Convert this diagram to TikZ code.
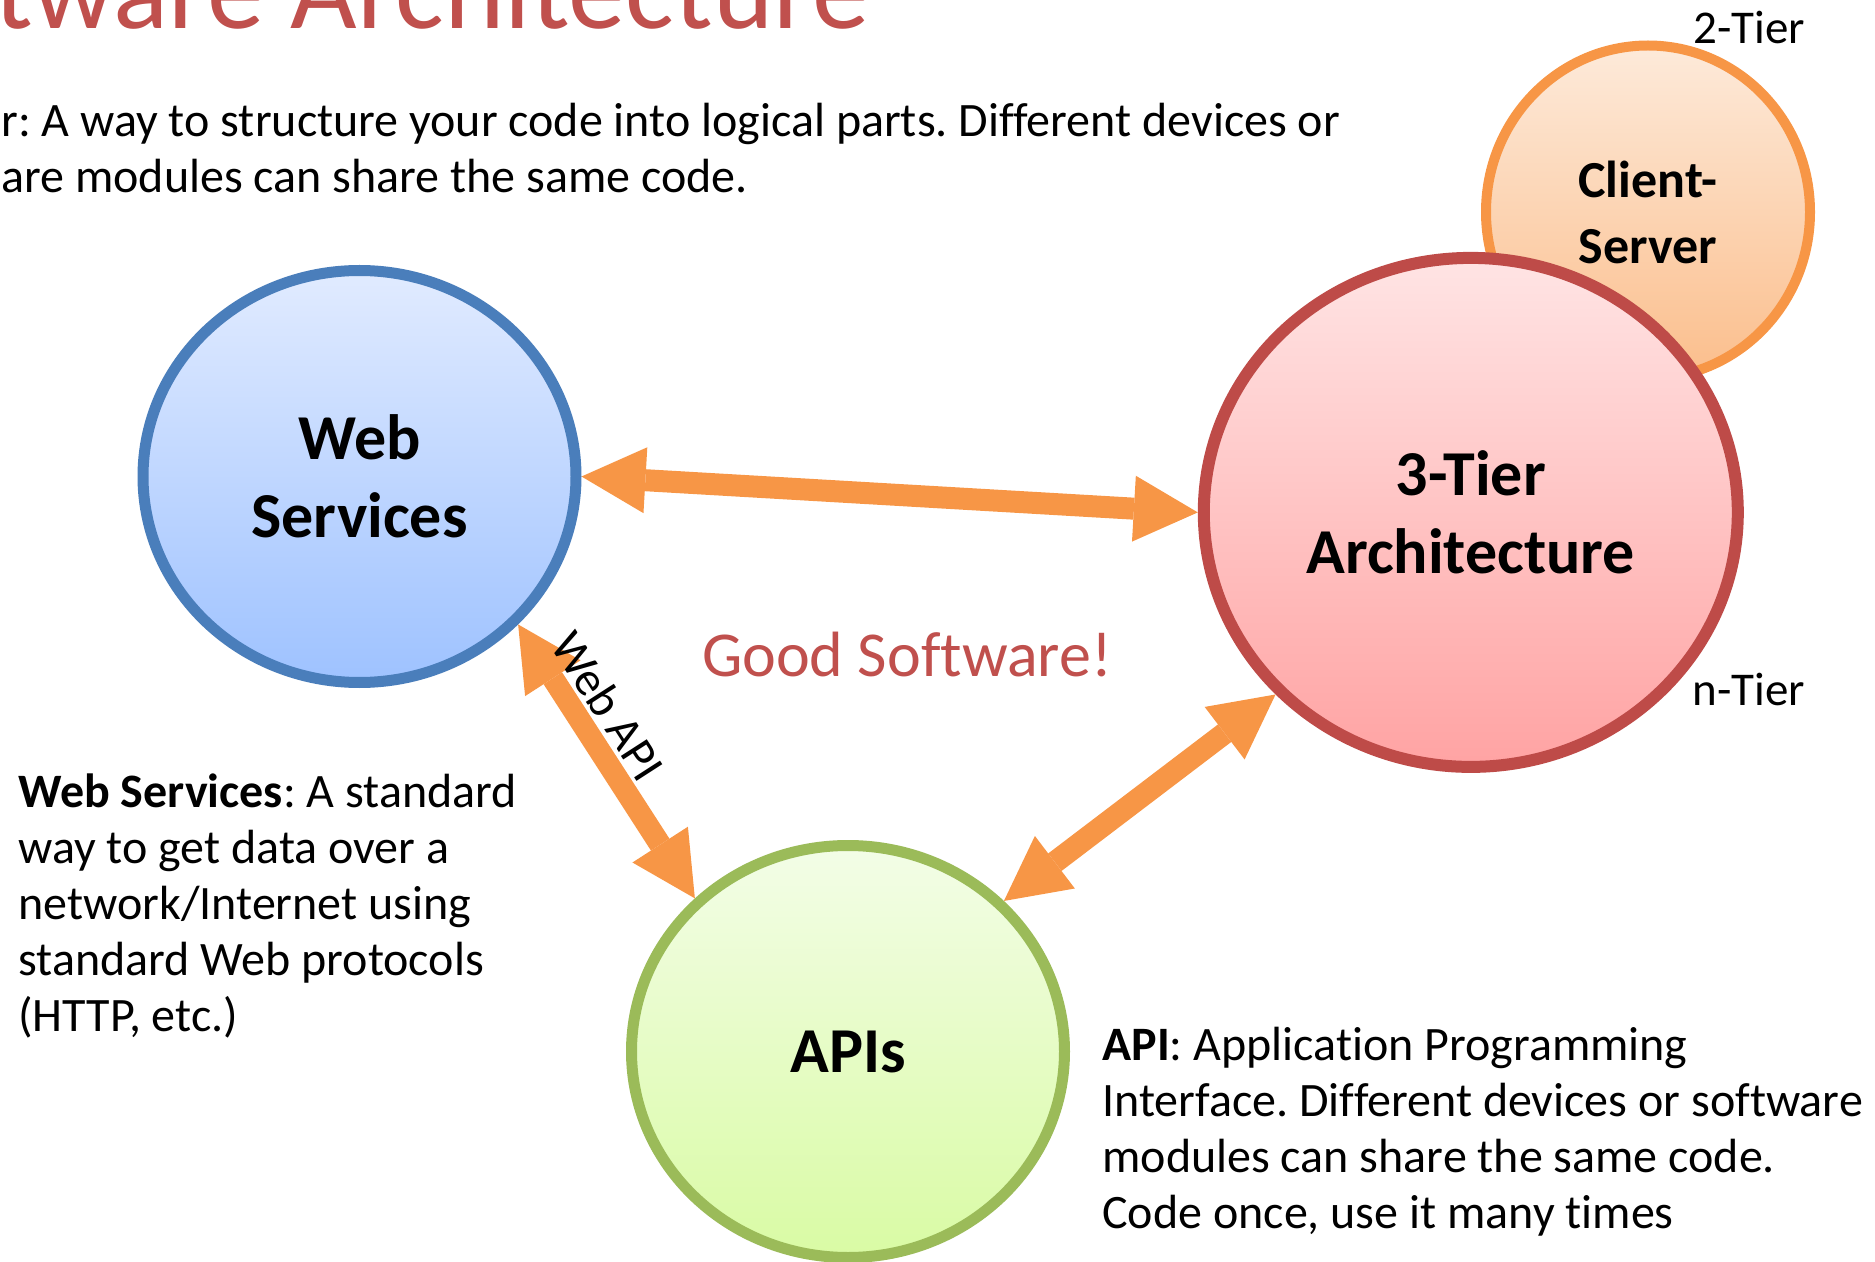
\documentclass[tikz,border=0pt]{standalone}
\usepackage{fontspec}
\setmainfont{Carlito}[Ligatures=NoCommon]
\frenchspacing
\usetikzlibrary{shapes.geometric, arrows.meta}
\definecolor{wsline}{RGB}{74,126,187}
\definecolor{wstop}{RGB}{225,235,255}
\definecolor{wsbot}{RGB}{158,194,255}
\definecolor{ttline}{RGB}{190,75,72}
\definecolor{tttop}{RGB}{255,228,228}
\definecolor{ttbot}{RGB}{255,163,163}
\definecolor{csline}{RGB}{247,150,70}
\definecolor{cstop}{RGB}{253,234,218}
\definecolor{csbot}{RGB}{251,190,140}
\definecolor{apline}{RGB}{155,187,89}
\definecolor{aptop}{RGB}{243,253,231}
\definecolor{apbot}{RGB}{217,251,164}
\definecolor{arrowc}{RGB}{247,150,70}
\definecolor{titlered}{RGB}{192,80,77}
\begin{document}
\begin{tikzpicture}[x=0.5pt, y=-0.5pt,
  bubble/.style={ellipse, draw, inner sep=0pt, align=center,
    font=\bfseries\fontsize{32}{39}\selectfont},
  link/.style={draw=arrowc, line width=11pt,
    arrows={Triangle[length=32pt,width=33pt,line width=0pt]-Triangle[length=32pt,width=33pt,line width=0pt]}},
  body/.style={anchor=base west, inner sep=0pt, font=\fontsize{24}{28}\selectfont},
  tag/.style={inner sep=0pt, font=\fontsize{23.5}{28}\selectfont}]
\useasboundingbox (0,0) rectangle (1875,1262);
\clip (0,0) rectangle (1875,1262);

% title and top text
\node[anchor=base west, inner sep=0pt, text=titlered,
  font=\fontsize{57.5}{69}\selectfont] (title) at (-6,29) {tware Architecture};
\node[body] (top1) at (1,137) {r: A way to structure your code into logical parts. Different devices or};
\node[body] (top2) at (1,193) {are modules can share the same code.};

% circles
\node[bubble, draw=csline, line width=5pt, top color=cstop, bottom color=csbot,
  minimum width=162pt, minimum height=166.5pt,
  font=\bfseries\fontsize{26}{33}\selectfont] (cs) at (1648,212) {Client-\\Server};
\node[bubble, draw=ttline, line width=6pt, top color=tttop, bottom color=ttbot,
  minimum width=267pt, minimum height=254.5pt] (tier3) at (1470.8,512.4) {3-Tier\\Architecture};
\node[bubble, draw=wsline, line width=5.5pt, top color=wstop, bottom color=wsbot,
  minimum width=216.5pt, minimum height=206pt] (ws) at (359.5,476.5) {Web\\Services};
\node[bubble, draw=apline, line width=5.5pt, top color=aptop, bottom color=apbot,
  minimum width=216.5pt, minimum height=206pt] (api) at (848,1051.5) {APIs};

% connectors
\draw[link] (ws.east) -- (tier3.west);
\draw[link] (ws.-43) -- node[pos=0.36, sloped, above=2pt, inner sep=0pt,
  font=\fontsize{24}{29}\selectfont] (webapi) {Web API} (api.135.4);
\draw[link] (api.44) -- (tier3.223.6);

% labels
\node[text=titlered, inner sep=0pt, font=\fontsize{32}{38}\selectfont] (good) at (907,655) {Good Software!};
\node[tag] (twotier) at (1749,27) {2-Tier};
\node[tag] (ntier) at (1749,689) {n-Tier};

% Web Services paragraph
\node[body] (ws1) at (18,807) {\textbf{Web Services}: A standard};
\node[body] (ws2) at (18,863) {way to get data over a};
\node[body] (ws3) at (18,919) {network/Internet using};
\node[body] (ws4) at (18,975) {standard Web protocols};
\node[body] (ws5) at (18,1031) {(HTTP, etc.)};

% API paragraph
\node[body] (ap1) at (1102,1060) {\textbf{API}: Application Programming};
\node[body] (ap2) at (1102,1116) {Interface. Different devices or software};
\node[body] (ap3) at (1102,1172) {modules can share the same code.};
\node[body] (ap4) at (1102,1228) {Code once, use it many times};
\end{tikzpicture}
\end{document}
